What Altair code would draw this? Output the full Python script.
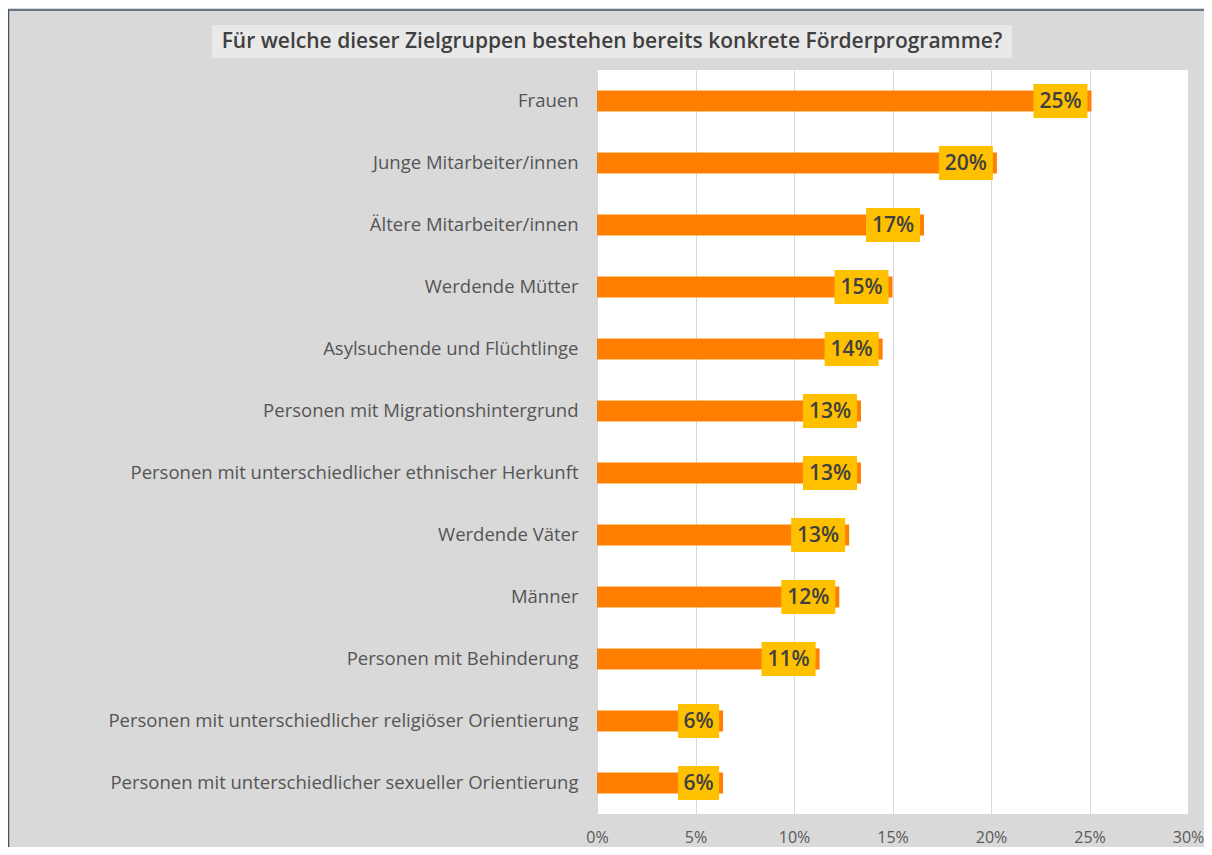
import altair as alt
import pandas as pd

categories = [
    "Frauen",
    "Junge Mitarbeiter/innen",
    "Ältere Mitarbeiter/innen",
    "Werdende Mütter",
    "Asylsuchende und Flüchtlinge",
    "Personen mit Migrationshintergrund",
    "Personen mit unterschiedlicher ethnischer Herkunft",
    "Werdende Väter",
    "Männer",
    "Personen mit Behinderung",
    "Personen mit unterschiedlicher religiöser Orientierung",
    "Personen mit unterschiedlicher sexueller Orientierung",
]
values = [0.251, 0.203, 0.166, 0.150, 0.145, 0.134, 0.134, 0.128, 0.123, 0.113, 0.064, 0.064]
labels = ["25%", "20%", "17%", "15%", "14%", "13%", "13%", "13%", "12%", "11%", "6%", "6%"]
x_ticks = [0, 0.05, 0.10, 0.15, 0.20, 0.25, 0.30]
title_text = "Für welche dieser Zielgruppen bestehen bereits konkrete Förderprogramme?"

df = pd.DataFrame({"cat": categories, "value": values, "label": labels})
df["digits"] = df["label"].str.len()

FONT = "Open Sans"
W, H = 591, 744

y_enc = alt.Y(
    "cat:N",
    sort=categories,
    scale=alt.Scale(paddingInner=0, paddingOuter=0),
    axis=alt.Axis(
        title=None, ticks=False, domain=False, labelFont=FONT, labelFontSize=18.5,
        labelColor="#555555", labelPadding=19, labelLimit=700,
    ),
)
x_enc = alt.X(
    "value:Q",
    scale=alt.Scale(domain=[0, 0.3], nice=False),
    axis=alt.Axis(
        title=None, values=x_ticks, format=".0%", ticks=False, domain=False,
        labelFont=FONT, labelFontSize=16, labelColor="#595959", labelPadding=15,
        labelFlush=False, gridColor="#d9d9d9", gridWidth=1,
    ),
)

base = alt.Chart(df)

bars = base.mark_bar(size=21, color="#ff8000").encode(y=y_enc, x=x_enc)

box2 = base.transform_filter("datum.digits == 3").mark_bar(
    size=34, color="#ffc000", xOffset=-58, x2Offset=-4
).encode(y=alt.Y("cat:N", sort=categories), x="value:Q", x2="value")
box1 = base.transform_filter("datum.digits == 2").mark_bar(
    size=34, color="#ffc000", xOffset=-45, x2Offset=-4
).encode(y=alt.Y("cat:N", sort=categories), x="value:Q", x2="value")

txt2 = base.transform_filter("datum.digits == 3").mark_text(
    font=FONT, fontSize=21, fontWeight=600, color="#404040", align="center", baseline="middle", dx=-31, dy=1
).encode(y=alt.Y("cat:N", sort=categories), x="value:Q", text="label:N")
txt1 = base.transform_filter("datum.digits == 2").mark_text(
    font=FONT, fontSize=21, fontWeight=600, color="#404040", align="center", baseline="middle", dx=-24.5, dy=1
).encode(y=alt.Y("cat:N", sort=categories), x="value:Q", text="label:N")

deco = pd.DataFrame({"t": [title_text]})
title_box = alt.Chart(deco).mark_rect(color="#e9e9e9").encode(
    x=alt.value(-385), x2=alt.value(415), y=alt.value(-45), y2=alt.value(-12)
)
title = alt.Chart(deco).mark_text(
    font=FONT, fontSize=21, fontWeight=600, color="#404040", align="center", baseline="middle"
).encode(x=alt.value(15), y=alt.value(-28), text="t:N")

border_top = alt.Chart(deco).mark_rule(color="#44546a", strokeWidth=1.5).encode(
    x=alt.value(-589), x2=alt.value(610), y=alt.value(-60)
)
border_left = alt.Chart(deco).mark_rule(color="#44546a", strokeWidth=1.5).encode(
    x=alt.value(-588.5), y=alt.value(-60), y2=alt.value(780)
)

chart = alt.layer(title_box, title, border_top, border_left, bars, box2, box1, txt2, txt1).properties(
    width=W,
    height=H,
    autosize=alt.AutoSizeParams(type="none"),
    padding={"left": 589, "top": 62, "right": 16, "bottom": 33},
    background="#d9d9d9",
).configure_view(fill="white", stroke=None)

chart.save("out.html", embed_options={"renderer": "svg", "actions": False})
